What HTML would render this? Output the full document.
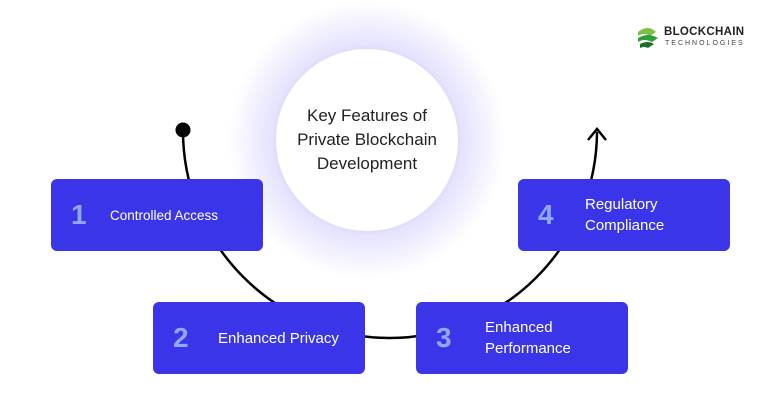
<!DOCTYPE html>
<html><head><style>
body{margin:0;width:780px;height:405px;background:#fff;overflow:hidden;position:relative;font-family:"Liberation Sans",sans-serif}
.glow{position:absolute;left:227px;top:0px;width:280px;height:280px;border-radius:50%;background:radial-gradient(circle,rgba(110,100,240,0.55) 30%,rgba(150,140,250,0.25) 48%,rgba(255,255,255,0) 70%)}
.c{position:absolute;left:276px;top:49px;width:182px;height:182px;border-radius:50%;background:#fff;display:flex;align-items:center;justify-content:center;text-align:center;font-size:17px;line-height:24px;color:#222}
.b{position:absolute;width:212px;height:72px;background:#3a35e8;border-radius:6px;color:#fff;font-size:15px;line-height:21px}
.b .n{position:absolute;left:20px;top:0;height:72px;line-height:72px;font-size:28px;color:#8fa8ff;font-weight:bold}
.b .t{position:absolute;left:65px;top:0;height:72px;display:flex;align-items:center}
</style></head><body>
<div class="glow"></div>
<svg width="780" height="405" style="position:absolute;left:0;top:0">
<path d="M183 130 A207 207 0 0 0 597 132" fill="none" stroke="#000" stroke-width="2.5"/>
<circle cx="183" cy="130" r="7.5" fill="#000"/>
<path d="M588 140 L597 129 L606 140" fill="none" stroke="#000" stroke-width="2.5"/>
</svg>
<div class="c">Key Features of<br>Private Blockchain<br>Development</div>
<div class="b" style="left:51px;top:179px"><span class="n">1</span><span class="t" style="left:59px;font-size:13.5px">Controlled Access</span></div>
<div class="b" style="left:153px;top:302px"><span class="n">2</span><span class="t">Enhanced Privacy</span></div>
<div class="b" style="left:416px;top:302px"><span class="n">3</span><span class="t" style="left:69px">Enhanced<br>Performance</span></div>
<div class="b" style="left:518px;top:179px"><span class="n">4</span><span class="t" style="left:67px">Regulatory<br>Compliance</span></div>
<svg width="24" height="24" style="position:absolute;left:636px;top:26px"><path d="M2 6 Q12 -2 20 6 L14 10 Q8 6 2 10Z" fill="#7cc242"/><path d="M2 12 Q12 6 22 12 L16 16 Q8 12 2 16Z" fill="#2e9e3a"/><path d="M4 18 Q12 14 18 18 L12 22 Q8 20 4 22Z" fill="#1f6e2a"/></svg>
<div style="position:absolute;left:664px;top:26px;font-size:11.5px;font-weight:bold;color:#222;letter-spacing:0.3px">BLOCKCHAIN</div>
<div style="position:absolute;left:665px;top:40px;font-size:7px;color:#444;letter-spacing:2px">TECHNOLOGIES</div>
</body></html>
